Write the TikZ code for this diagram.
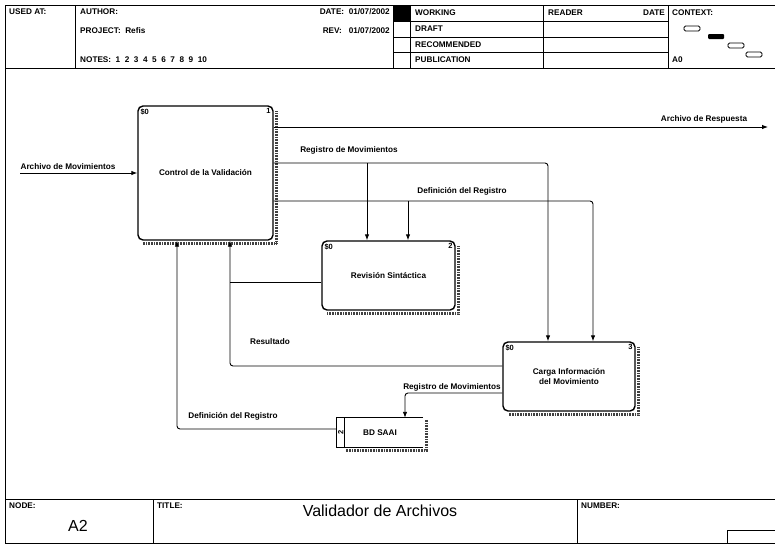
\documentclass[tikz,border=0pt]{standalone}
\usepackage{fontspec}
\setmainfont{Liberation Sans}
\usetikzlibrary{arrows.meta,calc}

\begin{document}
\begin{tikzpicture}[x=1pt,y=-1pt,
        every node/.style = {font=\fontsize{8.2}{9.5}\selectfont\bfseries, inner sep=0pt},
        func/.style = {draw, line width=1.4pt, rounded corners=5pt, align=center},
        tag/.style = {font=\fontsize{7.5}{8}\selectfont\bfseries},
        flow/.style = {line width=0.9pt, rounded corners=3pt, -{Latex[length=6pt,width=4.5pt]}},
        wire/.style = {line width=0.9pt, rounded corners=3pt},
        hatch/.style = {line width=2.6pt, black!75, dash pattern=on 0.7pt off 0.9pt},
        frame/.style = {line width=1pt},
        big/.style = {font=\fontsize{16}{18}\selectfont}]
    \useasboundingbox (0,0) rectangle (775,544);

    % frame, header and footer
    \draw[frame] (775,5) -- (5,5) -- (5,543) -- (775,543);
    \draw[frame] (5,68) -- (775,68);
    \foreach \x in {75,393,410,543,668}
        \draw[frame] (\x,5) -- (\x,68);
    \foreach \y in {21,37,52}
        \draw[frame] (393,\y) -- (668,\y);
    \fill (393,5) rectangle (410,21);
    \draw[frame] (5,499) -- (775,499);
    \draw[frame] (153,499) -- (153,543);
    \draw[frame] (577,499) -- (577,543);
    \draw[frame] (727,530) rectangle (775,543);

    \node[anchor=west] (usedat) at (9,12) {USED AT:};
    \node[anchor=west] (author) at (80,12) {AUTHOR:};
    \node[anchor=west] (project) at (80,31) {PROJECT:\ \ Refis};
    \node[anchor=west] (notes) at (80,60) {NOTES:\ \ 1\ \ 2\ \ 3\ \ 4\ \ 5\ \ 6\ \ 7\ \ 8\ \ 9\ \ 10};
    \node[anchor=east] (date) at (390,12) {DATE:\ \ 01/07/2002};
    \node[anchor=east] (rev) at (390,31) {REV:\ \ \ 01/07/2002};
    \foreach \t/\y in {WORKING/13,DRAFT/29,RECOMMENDED/44.5,PUBLICATION/60}
        \node[anchor=west] at (415,\y) {\t};
    \node[anchor=west] (reader) at (548,13) {READER};
    \node[anchor=east] (rdate) at (665,13) {DATE};
    \node[anchor=west] (context) at (672,13) {CONTEXT:};
    \node[anchor=west] (ctxnode) at (672,60) {A0};
    \draw[line width=0.8pt, rounded corners=1.5pt] (684,26) rectangle (700,31);
    \fill[rounded corners=1pt] (708,34) rectangle (724,39);
    \draw[line width=0.8pt, rounded corners=1.5pt] (728,43) rectangle (744,48);
    \draw[line width=0.8pt, rounded corners=1.5pt] (746,52) rectangle (762,57);

    \node[anchor=west] (nodelbl) at (9,506) {NODE:};
    \node[big] (nodeno) at (78,526) {A2};
    \node[anchor=west] (titlelbl) at (157,506) {TITLE:};
    \node[big] (title) at (380,511) {Validador de Archivos};
    \node[anchor=west] (numberlbl) at (581,506) {NUMBER:};

    % activities
    \node[func, minimum width=135, minimum height=134] (ctrl) at (205.5,173) {Control de la Validación};
    \node[func, minimum width=133, minimum height=69] (rev) at (388.5,275.5) {Revisión Sintáctica};
    \node[func, minimum width=132, minimum height=69] (carga) at (569,376.5) {Carga Información\\del Movimiento};
    \foreach \n/\k in {ctrl/1,rev/2,carga/3} {
        \draw[hatch] ($(\n.north east)+(3,6)$) -- ($(\n.south east)+(3,3)$) -- ($(\n.south west)+(6,3)$);
        \node[tag, anchor=north west] at ($(\n.north west)+(3,3)$) {\$0};
        \node[tag, anchor=north east] at ($(\n.north east)+(-3,3)$) {\k};
    }

    % data store
    \node[minimum width=86, minimum height=29] (bd) at (380,432.5) {BD SAAI};
    \draw[line width=1.1pt] (bd.north east) -- (bd.north west) -- (bd.south west) -- (bd.south east);
    \draw[line width=0.9pt] ($(bd.north west)+(8,0)$) -- ($(bd.south west)+(8,0)$);
    \node[tag, rotate=90] (bdno) at ($(bd.west)+(4,0)$) {2};
    \draw[hatch] ($(bd.north east)+(3,2)$) -- ($(bd.south east)+(3,3)$) -- ($(bd.south west)+(8,3)$);

    % arrows
    \coordinate (inA) at (20,173);
    \coordinate (outB) at (768,127);
    \coordinate (regB) at (367,163);
    \coordinate (regC) at (548,163);
    \coordinate (defB) at (408,201);
    \coordinate (defC) at (593,201);
    \coordinate (resA) at (230,282);
    \coordinate (resB) at (230,366);
    \coordinate (regD) at (405,393);
    \coordinate (defA) at (177,429);

    \draw[flow] (inA) -- (ctrl.west |- inA);
    \draw[flow] (ctrl.east |- outB) -- (outB);
    \draw[flow] (ctrl.east |- regC) -| (regC |- carga.north);
    \draw[flow] (regB) -- (regB |- rev.north);
    \draw[flow] (ctrl.east |- defC) -| (defC |- carga.north);
    \draw[flow] (defB) -- (defB |- rev.north);
    \draw[wire] (rev.west |- resA) -- (resA);
    \draw[flow] (carga.west |- resB) -| (resB |- ctrl.south);
    \draw[flow] (carga.west |- regD) -| (regD |- bd.north);
    \draw[flow] (bd.west |- defA) -| (defA |- ctrl.south);

    \node (lmov) at (68,167) {Archivo de Movimientos};
    \node (lresp) at (704,119) {Archivo de Respuesta};
    \node (lreg) at (349,150) {Registro de Movimientos};
    \node (ldef) at (462,191) {Definición del Registro};
    \node (lres) at (270,342) {Resultado};
    \node (ldefbd) at (233,416) {Definición del Registro};
    \node (lregbd) at (452,387) {Registro de Movimientos};
\end{tikzpicture}
\end{document}
